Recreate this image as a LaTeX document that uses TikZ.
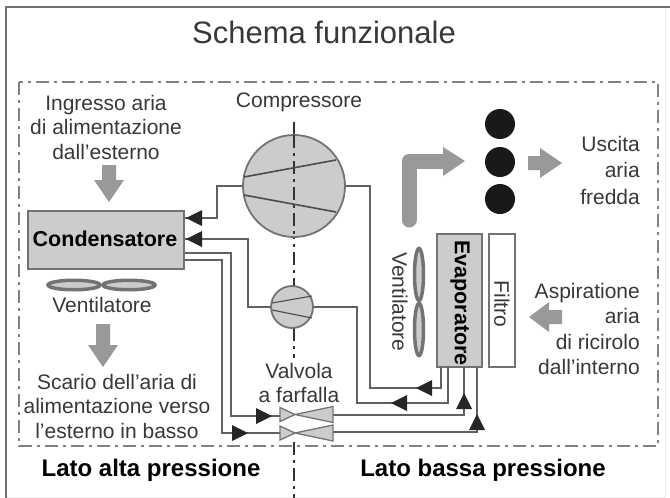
\documentclass[tikz,border=0pt]{standalone}
\usepackage{fontspec}
\setmainfont{Liberation Sans}
\usetikzlibrary{calc}
\definecolor{framegray}{gray}{0.45}
\definecolor{fillgray}{gray}{0.8}
\definecolor{pipegray}{gray}{0.38}
\definecolor{flowgray}{gray}{0.6}
\definecolor{inkgray}{gray}{0.22}
\tikzset{
	frameline/.style={draw=framegray!90, line width=1.5pt, dash pattern=on 13pt off 5pt on 3pt off 5pt},
	centerline/.style={draw=black!80, line width=1.1pt, dash pattern=on 13pt off 5pt on 3pt off 5pt},
	pipe/.style={draw=pipegray, line width=1.6pt},
	blade/.style={draw=black!70, line width=1.6pt},
	label/.style={text=inkgray, font=\fontsize{21}{24.5}\selectfont, align=center, inner sep=0pt},
	rightlabel/.style={label, align=right, anchor=east},
	boldlabel/.style={text=black, font=\fontsize{21.5}{24}\selectfont\bfseries, inner sep=0pt},
	sidelabel/.style={boldlabel, font=\fontsize{24}{28}\selectfont\bfseries},
	unit/.style={draw=framegray, fill=fillgray, line width=1.6pt, inner sep=0pt},
	comp/.style={draw=framegray, fill=fillgray, line width=1.8pt, circle, inner sep=0pt},
	lobe/.style={draw=framegray, fill=fillgray, line width=3.5pt},
	valvebody/.style={draw=framegray, fill=fillgray, line width=1.3pt}
}
% small filled arrow head, tip at the given point, pointing along the given angle
\newcommand{\headtip}[2]{\fill[black!85,shift={(#1)},rotate=#2] (0,0) -- (-16,-8) -- (-16,8) -- cycle;}
% block arrow for the air flow, tip at the given point
\newcommand{\flowarrow}[4]{\fill[flowgray,shift={(#1)},rotate=#2] (0,0) -- (-#3,-15) -- (-#3,-7) -- (-#4,-7) -- (-#4,7) -- (-#3,7) -- (-#3,15) -- cycle;}
% butterfly valve
\newcommand{\valve}[1]{\draw[valvebody,shift={(#1)}] (-15,-7) -- (0,0) -- (38,-8) -- (38,8) -- (0,0) -- (-15,7) -- cycle;}
\begin{document}
\begin{tikzpicture}[x=1pt,y=-1pt]
	\useasboundingbox (0,0) rectangle (670,498);
	% Outer frame
	\draw[black!6, line width=1pt] (665,7) -- (665,497) -- (6,497);
	\draw[framegray, line width=1.6pt] (6,498) -- (6,7) -- (670,7);
	\draw[frameline] (19,82) rectangle (658,446);

	% Title
	\node[label, font=\fontsize{31}{36}\selectfont] (title) at (324,32) {Schema funzionale};

	% Centre line
	\coordinate (cltop) at (294,122);
	\coordinate (clmida) at (294,286);
	\coordinate (clmidb) at (294,328);
	\coordinate (clmidc) at (294,358);
	\coordinate (clmidd) at (294,442);
	\coordinate (clbot) at (294,498);
	\draw[centerline] (cltop) -- (clmida);
	\draw[centerline] (clmidb) -- (clmidc);
	\draw[centerline] (clmidd) -- (clbot);

	% Pipes
	\node[comp, minimum size=102pt] (compressore) at (294,186) {};
	\node[comp, minimum size=42pt] (ausiliario) at (292,307) {};
	\node[unit, minimum width=156pt, minimum height=58pt] (condensatore) at (106,240) {};
	\node[unit, minimum width=45pt, minimum height=133pt] (evaporatore) at (459.5,300.5) {};
	\node[unit, fill=white, minimum width=26pt, minimum height=133pt] (filtro) at (502,300.5) {};
	\coordinate (valvetop) at (295,414.5);
	\coordinate (valvebot) at (295,433);
	\draw[pipe] (compressore.west) -- (217,186) -- (217,218) -- (condensatore.east |- 0,218);
	\draw[pipe] (ausiliario.west) -- (248,307) -- (248,239) -- (condensatore.east |- 0,239);
	\draw[pipe] (condensatore.east |- 0,253) -- (231,253) -- (231,416) -- (280,416);
	\draw[pipe] (condensatore.east |- 0,260) -- (222,260) -- (222,433) -- (280,433);
	\draw[pipe] (compressore.east) -- (370,186) -- (370,388) -- (441,388) -- (441,367);
	\draw[pipe] (ausiliario.east) -- (357,307) -- (357,403) -- (448,403) -- (448,367);
	\draw[pipe] (333,415) -- (464,415) -- (464,367);
	\draw[pipe] (333,432) -- (477,432) -- (477,367);

	% Arrow heads
	\headtip{186,218}{180}
	\headtip{186,239}{180}
	\headtip{272,416}{0}
	\headtip{248,433}{0}
	\headtip{416,388}{180}
	\headtip{391,403}{180}
	\headtip{464,393}{90}
	\headtip{477,414}{90}

	% Compressor
	\draw[centerline] (294,135) -- (294,237);
	\draw[blade] (244,177) -- (336,160);
	\draw[blade] (244,195) -- (336,212);
	\node[label] (complabel) at (299,102) {Compressore};

	% Small unit
	\draw[blade, line width=1.1pt] (272,303) -- (312,296);
	\draw[blade, line width=1.1pt] (272,310) -- (312,318);

	% Valve
	\valve{valvetop}
	\valve{valvebot}
	\node[label] (valvlabel) at (299,383) {Valvola\\a farfalla};

	% Condenser, evaporator and filter
	\node[boldlabel] (condlabel) at (105,239) {Condensatore};
	\node[boldlabel, rotate=-90] (evaplabel) at (460,303) {Evaporatore};
	\node[label, rotate=-90] (filtrolabel) at (502,304) {Filtro};

	% Fans
	\draw[lobe] (74,285) ellipse (26 and 4.75);
	\draw[lobe] (129,285) ellipse (26 and 4.75);
	\draw[lobe] (419,274.5) ellipse (4.5 and 26);
	\draw[lobe] (419,329.5) ellipse (4.5 and 26);
	\node[label] (ventcond) at (102,305) {Ventilatore};
	\node[label, rotate=-90] (ventevap) at (400,302) {Ventilatore};

	% Air flow
	\flowarrow{109,202}{-90}{22}{37}
	\flowarrow{103,367}{-90}{22}{43}
	\flowarrow{562,163}{0}{22}{34}
	\flowarrow{529,317}{180}{20}{33}
	\draw[flowgray, line width=15pt, line cap=round, line join=round] (409,220) -- (409,161) -- (445,161);
	\fill[flowgray] (465,161) -- (443,147) -- (443,176) -- cycle;

	% Dots
	\fill[black!90] (500,124) circle (15);
	\fill[black!90] (500,162) circle (15);
	\fill[black!90] (500,199) circle (15);

	% Labels
	\node[label] (ingresso) at (106,127) {Ingresso aria\\di alimentazione\\dall'esterno};
	\node[label] (scario) at (117,406) {Scario dell'aria di\\alimentazione verso\\l'esterno in basso};
	\node[rightlabel] (uscita) at (640,170) {Uscita\\[2pt]aria\\[2pt]fredda};
	\node[rightlabel] (aspirazione) at (640,329) {Aspiratione\\[1pt]aria\\[1pt]di ricirolo\\[1pt]dall'interno};
	\node[sidelabel] (alta) at (151,470) {Lato alta pressione};
	\node[sidelabel] (bassa) at (483,470) {Lato bassa pressione};
\end{tikzpicture}
\end{document}
